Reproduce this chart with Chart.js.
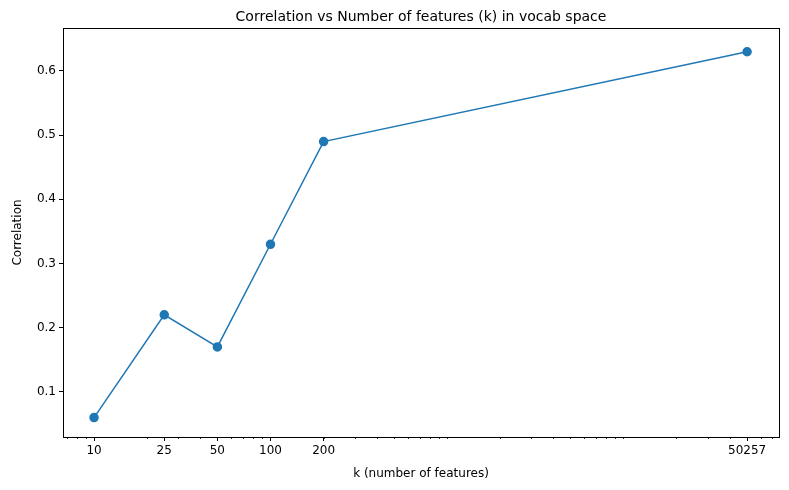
<!DOCTYPE html>
<html>
<head>
<meta charset="utf-8">
<script src="https://cdn.jsdelivr.net/npm/chart.js@4/dist/chart.umd.min.js"></script>
<style>
  body { margin: 0; background: #fff; }
  #wrap { width: 789px; height: 490px; }
</style>
</head>
<body>
<div id="wrap"><canvas id="c"></canvas></div>
<script>
// data
const kValues = [10, 25, 50, 100, 200, 50257];
const correlation = [0.06, 0.22, 0.17, 0.33, 0.49, 0.63];
const xTicks = [10, 25, 50, 100, 200, 50257];
const yTicks = [0.1, 0.2, 0.3, 0.4, 0.5, 0.6];

const font = { family: 'DejaVu Sans', size: 12 };

// matplotlib style frame, minor ticks and title
const framePlugin = {
  id: 'frame',
  afterDraw(chart) {
    const ctx = chart.ctx;
    const a = chart.chartArea;
    const xs = chart.scales.x;
    ctx.save();
    ctx.strokeStyle = '#000';
    ctx.lineWidth = 1;
    ctx.strokeRect(a.left + 0.5, a.top + 0.5, a.right - a.left, a.bottom - a.top);
    // minor ticks on the log axis
    ctx.lineWidth = 0.8;
    for (let d = 1; d <= 100000; d *= 10) {
      for (let m = 1; m < 10; m++) {
        const v = d * m;
        if (v < xs.min || v > xs.max) continue;
        const px = Math.round(xs.getPixelForValue(v)) + 0.5;
        ctx.beginPath();
        ctx.moveTo(px, a.bottom);
        ctx.lineTo(px, a.bottom + 2);
        ctx.stroke();
      }
    }
    ctx.fillStyle = '#000';
    ctx.font = '14px "DejaVu Sans"';
    ctx.textAlign = 'center';
    ctx.textBaseline = 'middle';
    ctx.fillText('Correlation vs Number of features (k) in vocab space', (a.left + a.right) / 2, 17);
    ctx.restore();
  }
};

new Chart(document.getElementById('c'), {
  type: 'line',
  data: {
    labels: kValues,
    datasets: [{
      data: kValues.map((k, i) => ({ x: k, y: correlation[i] })),
      borderColor: '#1f77b4',
      backgroundColor: '#1f77b4',
      borderWidth: 1.5,
      pointRadius: 4,
      pointHoverRadius: 4,
      tension: 0
    }]
  },
  options: {
    animation: false,
    responsive: true,
    maintainAspectRatio: false,
    layout: { padding: { top: 28, right: 10, left: 7, bottom: 5 } },
    plugins: { legend: { display: false }, tooltip: { enabled: false } },
    scales: {
      x: {
        type: 'logarithmic',
        min: 6.67,
        max: 76200,
        afterBuildTicks(s) { s.ticks = xTicks.map(v => ({ value: v, major: true })); },
        afterFit(s) { s.height = 48; },
        ticks: {
          color: '#000', font: font, maxRotation: 0, autoSkip: false,
          callback: v => String(v)
        },
        grid: { drawOnChartArea: false, color: '#000', tickLength: 4 },
        border: { display: false },
        title: { display: true, text: 'k (number of features)', color: '#000', font: font, padding: { top: 2 } }
      },
      y: {
        min: 0.0297,
        max: 0.667,
        afterBuildTicks(s) { s.ticks = yTicks.map(v => ({ value: v })); },
        afterFit(s) { s.width = 56; },
        ticks: { color: '#000', font: font, callback: v => v.toFixed(1) },
        grid: { drawOnChartArea: false, color: '#000', tickLength: 4 },
        border: { display: false },
        title: { display: true, text: 'Correlation', color: '#000', font: font, padding: { bottom: 4 } }
      }
    }
  },
  plugins: [framePlugin]
});
</script>
</body>
</html>
